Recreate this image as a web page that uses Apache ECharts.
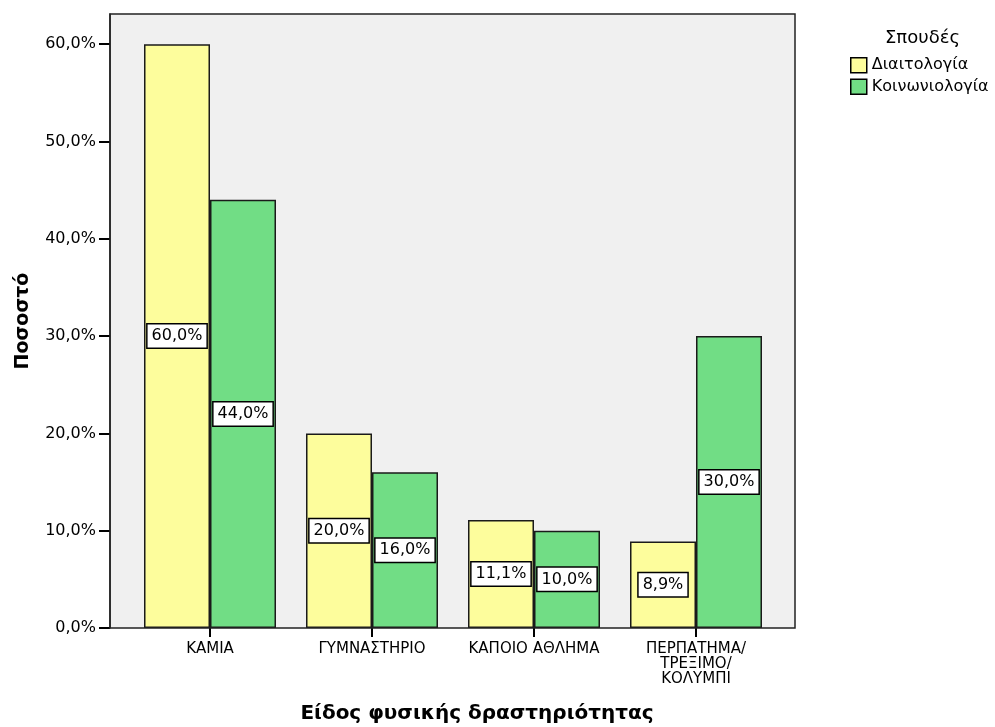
<!DOCTYPE html>
<html>
<head>
<meta charset="utf-8">
<script src="https://cdn.jsdelivr.net/npm/echarts@6/dist/echarts.min.js"></script>
<style>
  html, body { margin: 0; padding: 0; background: #fff; }
  #chart { width: 995px; height: 727px; }
</style>
</head>
<body>
<div id="chart"></div>
<script>
// Categories of physical activity
const categories = ['ΚΑΜΙΑ', 'ΓΥΜΝΑΣΤΗΡΙΟ', 'ΚΑΠΟΙΟ ΑΘΛΗΜΑ', 'ΠΕΡΠΑΤΗΜΑ/\nΤΡΕΞΙΜΟ/\nΚΟΛΥΜΠΙ'];
// Percentages per field of study
const seriesNames = ['Διαιτολογία', 'Κοινωνιολογία'];
const dietetics = [60.0, 20.0, 11.1, 8.9];
const sociology = [44.0, 16.0, 10.0, 30.0];
// Y axis ticks
const yTicks = [0, 10, 20, 30, 40, 50, 60];

const FONT = '"DejaVu Sans", "Liberation Sans", Arial, sans-serif';
const pct = v => v.toFixed(1).replace('.', ',') + '%';

// Plot frame and the inner band area used by the bars
const frame = { left: 110, right: 795, top: 14, bottom: 628 };
const bars = { left: 129, right: 777 };

const chart = echarts.init(document.getElementById('chart'), null, { renderer: 'canvas' });

const labelStyle = {
  show: true,
  position: 'inside',
  formatter: p => pct(p.value),
  color: '#000',
  fontFamily: FONT,
  fontSize: 16,
  backgroundColor: '#fff',
  borderColor: '#000',
  borderWidth: 1.5,
  padding: [4, 4, 3, 4]
};

chart.setOption({
  animation: false,
  backgroundColor: '#fff',
  title: {
    text: 'Σπουδές',
    left: 885,
    top: 29,
    padding: 0,
    textStyle: { fontFamily: FONT, fontSize: 18, fontWeight: 'normal', color: '#000' }
  },
  legend: {
    orient: 'vertical',
    left: 850,
    top: 57,
    padding: 0,
    itemWidth: 16,
    itemHeight: 15,
    itemGap: 5,
    icon: 'rect',
    data: seriesNames,
    itemStyle: { borderColor: '#000', borderWidth: 1.5 },
    textStyle: { fontFamily: FONT, fontSize: 16, color: '#000' }
  },
  graphic: [
    {
      type: 'rect',
      z: -10,
      silent: true,
      shape: { x: frame.left, y: frame.top, width: frame.right - frame.left, height: frame.bottom - frame.top },
      style: { fill: '#f0f0f0' }
    },
    {
      type: 'rect',
      z: 100,
      silent: true,
      shape: { x: frame.left, y: frame.top, width: frame.right - frame.left, height: frame.bottom - frame.top },
      style: { fill: 'none', stroke: '#222', lineWidth: 1.5 }
    }
  ],
  grid: {
    left: bars.left,
    right: 995 - bars.right,
    top: frame.top,
    bottom: 727 - frame.bottom,
    containLabel: false,
    outerBoundsMode: 'none'
  },
  xAxis: {
    type: 'category',
    data: categories,
    boundaryGap: true,
    name: 'Είδος φυσικής δραστηριότητας',
    nameLocation: 'middle',
    nameGap: 76,
    nameTextStyle: { fontFamily: FONT, fontSize: 20, fontWeight: 'bold', color: '#000', padding: [0, 0, 0, 48] },
    axisLine: { show: false },
    axisTick: { show: true, alignWithLabel: true, length: 9, lineStyle: { color: '#000', width: 2 } },
    axisLabel: { fontFamily: FONT, fontSize: 15, color: '#000', margin: 14, lineHeight: 15, interval: 0 },
    splitLine: { show: false }
  },
  yAxis: {
    type: 'value',
    min: 0,
    max: 63.1,
    interval: 10,
    offset: bars.left - frame.left,
    name: 'Ποσοστό',
    nameLocation: 'middle',
    nameRotate: 90,
    nameGap: 77,
    nameTextStyle: { fontFamily: FONT, fontSize: 19, fontWeight: 'bold', color: '#000' },
    axisLine: { show: true, lineStyle: { color: '#222', width: 1.5 } },
    axisTick: { show: true, length: 11, customValues: yTicks, lineStyle: { color: '#000', width: 2 } },
    axisLabel: { fontFamily: FONT, fontSize: 16, color: '#000', margin: 14, customValues: yTicks, formatter: v => pct(v) },
    splitLine: { show: false }
  },
  series: [
    {
      name: seriesNames[0],
      type: 'bar',
      data: dietetics,
      barWidth: 66,
      barGap: '0%',
      itemStyle: { color: '#fdfd9c', borderColor: '#1a1a1a', borderWidth: 1.5 },
      label: labelStyle
    },
    {
      name: seriesNames[1],
      type: 'bar',
      data: sociology,
      barWidth: 66,
      barGap: '0%',
      itemStyle: { color: '#71dd85', borderColor: '#1a1a1a', borderWidth: 1.5 },
      label: labelStyle
    }
  ]
});
</script>
</body>
</html>
